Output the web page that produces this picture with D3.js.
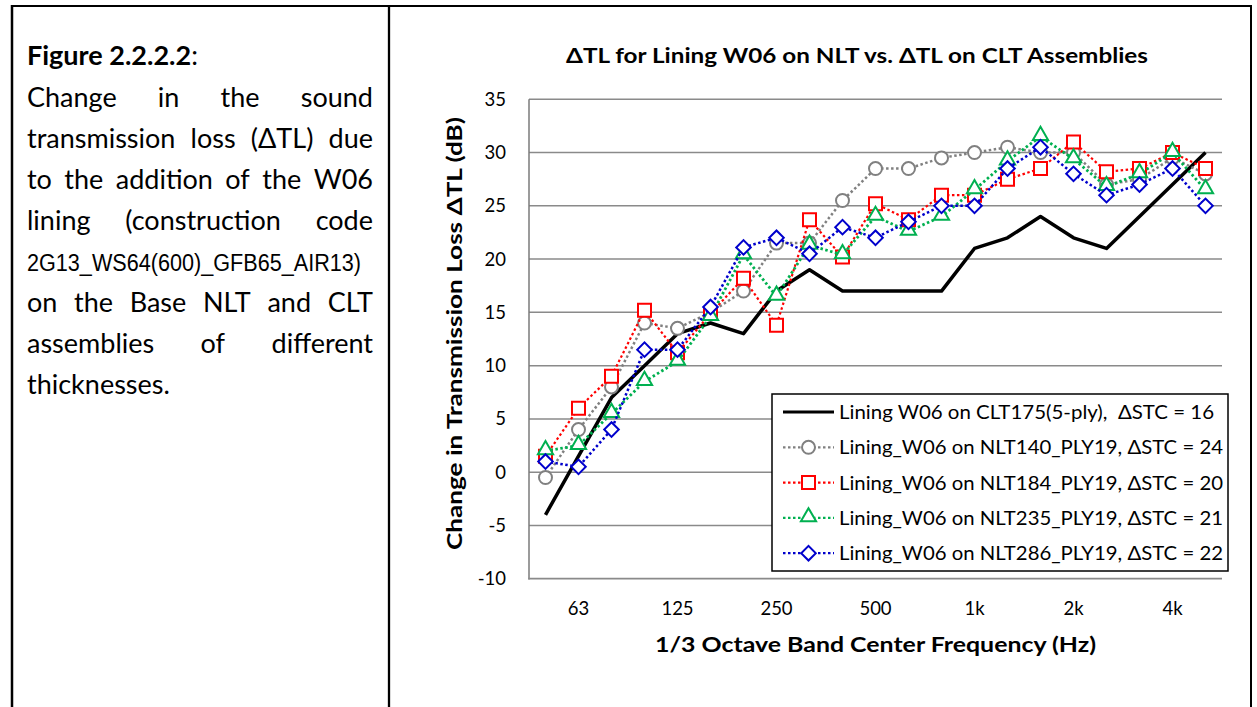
<!DOCTYPE html>
<html>
<head>
<meta charset="utf-8">
<script src="https://cdn.jsdelivr.net/npm/d3@7"></script>
<style>
  body{margin:0;background:#fff}
  svg{display:block}
  text{font-family:Lato,"Open Sans",sans-serif;fill:#000}
</style>
</head>
<body>
<svg id="fig" width="1257" height="707"></svg>
<script>
// 1/3 octave bands, 50 Hz .. 5 kHz
const bands = ['50','63','80','100','125','160','200','250','315','400','500','630','800','1k','1.25k','1.6k','2k','2.5k','3.15k','4k','5k'];
const tickBands = ['63','125','250','500','1k','2k','4k'];
const yTicks = [-10,-5,0,5,10,15,20,25,30,35];

// ΔTL values (dB)
const clt175 = [-4, 1.5, 7, 10, 13, 14, 13, 17, 19, 17, 17, 17, 17, 21, 22, 24, 22, 21, 24, 27, 30];
const nlt140 = [-0.5, 4, 8, 14, 13.5, 15, 17, 21.5, 21.5, 25.5, 28.5, 28.5, 29.5, 30, 30.5, 30, 30, 27, 27.5, 29.5, 28];
const nlt184 = [1.5, 6, 9, 15.2, 11.2, 14.9, 18.2, 13.8, 23.7, 20.2, 25.2, 23.7, 26, 26, 27.5, 28.5, 31, 28.2, 28.5, 30, 28.5];
const nlt235 = [2, 2.5, 5.5, 8.5, 10.4, 14.6, 20.4, 16.5, 21.3, 20.4, 24, 22.6, 24, 26.5, 29.2, 31.5, 29.4, 26.8, 28, 30, 26.5];
const nlt286 = [1, 0.5, 4, 11.5, 11.5, 15.5, 21.1, 22, 20.5, 23, 22, 23.5, 25, 25, 28.5, 30.5, 28, 26, 27, 28.5, 25];

const legendNames = [
  'Lining W06 on CLT175(5-ply),  \u0394STC = 16',
  'Lining_W06 on NLT140_PLY19, \u0394STC = 24',
  'Lining_W06 on NLT184_PLY19, \u0394STC = 20',
  'Lining_W06 on NLT235_PLY19, \u0394STC = 21',
  'Lining_W06 on NLT286_PLY19, \u0394STC = 22'
];

const captionLines = [
  'Change in the sound',
  'transmission loss (\u0394TL) due',
  'to the addition of the W06',
  'lining (construction code',
  '2G13_WS64(600)_GFB65_AIR13)',
  'on the Base NLT and CLT',
  'assemblies of different',
  'thicknesses.'
];

const svg = d3.select('#fig');

// --- table frame
const frame = svg.append('g').attr('stroke','#000');
frame.append('line').attr('x1',11).attr('x2',1252).attr('y1',6).attr('y2',6).attr('stroke-width',2);
frame.append('line').attr('x1',12).attr('x2',12).attr('y1',5).attr('y2',707).attr('stroke-width',2.5);
frame.append('line').attr('x1',389).attr('x2',389).attr('y1',5).attr('y2',707).attr('stroke-width',2.3);
frame.append('line').attr('x1',1251).attr('x2',1251).attr('y1',5).attr('y2',707).attr('stroke-width',2);

// --- caption (left cell)
const cap = svg.append('g').style('font-size','27px');
const figT = cap.append('text').attr('x',27).attr('y',65);
figT.append('tspan').style('font-weight','bold').text('Figure 2.2.2.2');
figT.append('tspan').text(':');

const capX0 = 27, capX1 = 373, capBase = 107, capStep = 41.05;
function justify(str, yy){
  const words = str.split(' ');
  const els = words.map(w => cap.append('text').attr('y',yy).text(w));
  const widths = els.map(e => e.node().getComputedTextLength());
  const total = d3.sum(widths);
  const gap = (capX1 - capX0 - total) / (words.length - 1);
  let xx = capX0;
  els.forEach((e,i)=>{ e.attr('x',xx); xx += widths[i] + gap; });
}
captionLines.forEach((l,i)=>{
  const yy = capBase + i*capStep;
  if (i === 4) {
    // narrow font in the original
    cap.append('text').attr('x',capX0).attr('y',yy)
      .style('font-family','"Liberation Sans Narrow","Liberation Sans",sans-serif')
      .style('font-size','23px')
      .attr('textLength',334).attr('lengthAdjust','spacingAndGlyphs')
      .text(l);
  } else if (i === captionLines.length-1) {
    cap.append('text').attr('x',capX0).attr('y',yy).text(l);
  } else {
    justify(l, yy);
  }
});

// --- chart
const x = d3.scaleBand().domain(bands).range([529,1222]);
const cx = b => x(b) + x.bandwidth()/2;
const y = d3.scaleLinear().domain([-10,35]).range([578.7,99.3]);

// title
svg.append('text').attr('x',857).attr('y',63).attr('text-anchor','middle')
  .style('font-weight','bold').style('font-size','20px')
  .attr('textLength',582).attr('lengthAdjust','spacingAndGlyphs')
  .text('\u0394TL for Lining W06 on NLT vs. \u0394TL on CLT Assemblies');

// gridlines
svg.append('g').selectAll('line').data(yTicks.filter(t=>t>-10)).enter().append('line')
  .attr('x1',529).attr('x2',1222)
  .attr('y1',d=>y(d)).attr('y2',d=>y(d))
  .attr('stroke','#8a8a8a').attr('stroke-width',1.5);

// axes
const yAx = svg.append('g').attr('transform','translate(529,0)')
  .call(d3.axisLeft(y).tickValues(yTicks).tickFormat(d=>String(d)).tickSize(0).tickPadding(23));
yAx.select('.domain').remove();
yAx.selectAll('text').style('font-size','18.5px').style('font-family','Lato,"Open Sans",sans-serif');

const xAx = svg.append('g').attr('transform','translate(0,578.7)')
  .call(d3.axisBottom(x).tickValues(tickBands).tickSize(0).tickPadding(23.5));
xAx.select('.domain').remove();
xAx.selectAll('text').style('font-size','18.5px').style('font-family','Lato,"Open Sans",sans-serif');

svg.append('line').attr('x1',529).attr('x2',529).attr('y1',99.3).attr('y2',579.5)
  .attr('stroke','#7a7a7a').attr('stroke-width',1.5);
svg.append('line').attr('x1',528.3).attr('x2',1222).attr('y1',578.7).attr('y2',578.7)
  .attr('stroke','#8a8a8a').attr('stroke-width',1.8);

// axis titles
svg.append('text').attr('transform','translate(462,333.5) rotate(-90)').attr('text-anchor','middle')
  .style('font-weight','bold').style('font-size','20px')
  .attr('textLength',433).attr('lengthAdjust','spacingAndGlyphs')
  .text('Change in Transmission Loss \u0394TL (dB)');
svg.append('text').attr('x',875.5).attr('y',652).attr('text-anchor','middle')
  .style('font-weight','bold').style('font-size','20px')
  .attr('textLength',441).attr('lengthAdjust','spacingAndGlyphs')
  .text('1/3 Octave Band Center Frequency (Hz)');

// series
const series = [
  {name:legendNames[0], values:clt175, color:'#000',    width:3.5, dash:null,      sym:null},
  {name:legendNames[1], values:nlt140, color:'#808080', width:2.5, dash:'2.5,2.5', sym:'circle'},
  {name:legendNames[2], values:nlt184, color:'#ff0000', width:2.2, dash:'2.5,2.5', sym:'square'},
  {name:legendNames[3], values:nlt235, color:'#00b050', width:2.8, dash:'2.5,2.5', sym:'triangle'},
  {name:legendNames[4], values:nlt286, color:'#0000cc', width:2.5, dash:'2.5,2.5', sym:'diamond'}
];

function marker(g, kind, color){
  let p;
  if (kind==='circle') p = g.append('circle').attr('r',6.5);
  else if (kind==='square') p = g.append('path').attr('d',d3.symbol(d3.symbolSquare,169)());
  else if (kind==='triangle') p = g.append('path').attr('d',d3.symbol(d3.symbolTriangle,100)()).attr('transform','translate(0,-1)');
  else p = g.append('path').attr('d',d3.symbol(d3.symbolSquare,106)()).attr('transform','rotate(45)');
  p.attr('fill','#fff').attr('stroke',color).attr('stroke-width',2);
}

const line = d3.line().x((d,i)=>cx(bands[i])).y(d=>y(d));
series.forEach(s=>{
  const g = svg.append('g');
  g.append('path').datum(s.values)
    .attr('d',line).attr('fill','none')
    .attr('stroke',s.color).attr('stroke-width',s.width)
    .attr('stroke-dasharray',s.dash).attr('stroke-linejoin','round');
  if (s.sym){
    g.selectAll('g.m').data(s.values).enter().append('g').attr('class','m')
      .attr('transform',(d,i)=>`translate(${cx(bands[i])},${y(d)})`)
      .each(function(){ marker(d3.select(this), s.sym, s.color); });
  }
});

// legend
const leg = svg.append('g');
leg.append('rect').attr('x',772).attr('y',394).attr('width',456).attr('height',177)
  .attr('fill','#fff').attr('stroke','#000').attr('stroke-width',1.5);
series.forEach((s,i)=>{
  const ly = 412 + i*35.3;
  const r = leg.append('g');
  r.append('line').attr('x1',783).attr('x2',834).attr('y1',ly).attr('y2',ly)
    .attr('stroke',s.color).attr('stroke-width',s.sym ? 2.2 : 3)
    .attr('stroke-dasharray',s.dash);
  if (s.sym){
    const mg = r.append('g').attr('transform',`translate(808.5,${ly})`);
    marker(mg, s.sym, s.color);
  }
  r.append('text').attr('x',839).attr('y',ly+7)
    .style('font-size','20px').style('white-space','pre')
    .attr('textLength', i===0 ? 375 : 384).attr('lengthAdjust','spacingAndGlyphs')
    .text(s.name);
});
</script>
</body>
</html>
